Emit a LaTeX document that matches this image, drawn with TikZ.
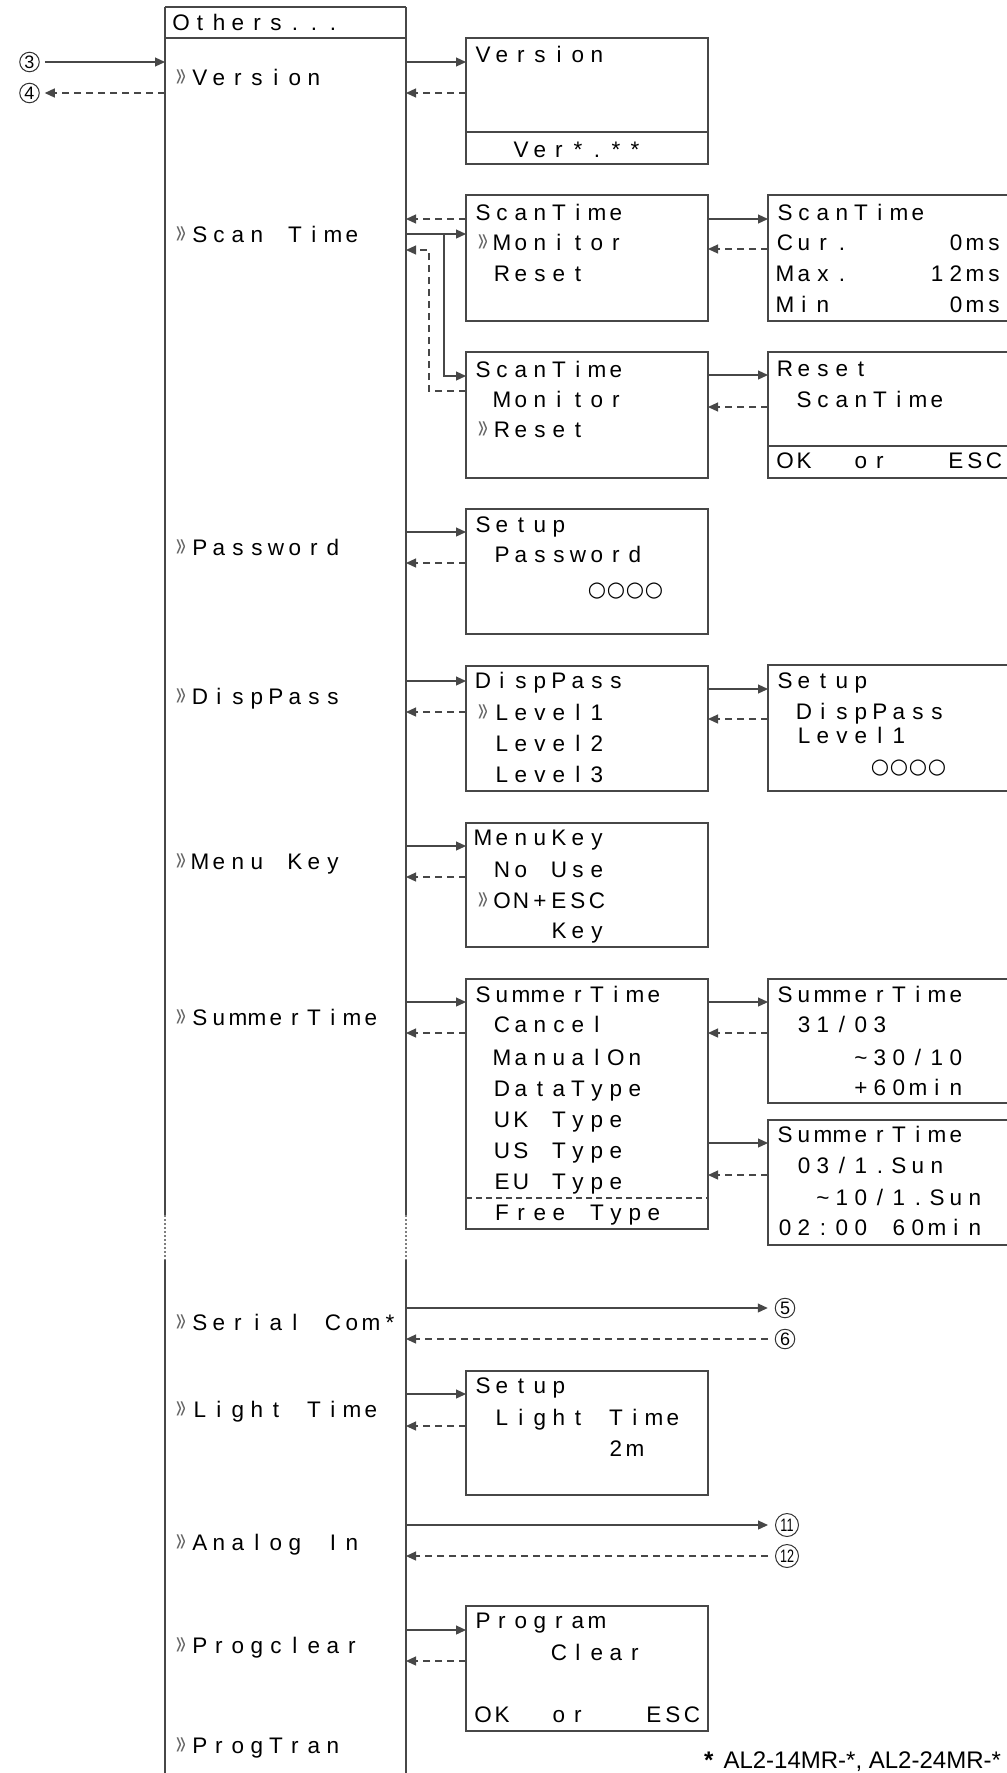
\documentclass[tikz,border=0pt]{standalone}
\usepackage{fontspec}
\usetikzlibrary{arrows.meta}
\newfontfamily\lcdfont{Liberation Sans}
\newfontfamily\symfont{DejaVu Sans}
\colorlet{lc}{black!72}
\newcommand\lcdcur{\raisebox{-1.5pt}{\textcolor{black!60}{\scalebox{1.25}[2.6]{\fontsize{14}{14}\selectfont »}}}}
\newcommand\lcdcirc{{\symfont\fontsize{21}{21}\selectfont ○}}
\ExplSyntaxOn
\NewDocumentCommand\lcd{m}{
  \str_map_inline:nn {#1} {
    \str_case:nnF {##1} {
      {_}{\makebox[19pt]{}}
      {>}{\makebox[19pt]{\lcdcur}}
      {○}{\makebox[19pt]{\lcdcirc}}
    }{\makebox[19pt]{##1}}
  }
}
\ExplSyntaxOff
\tikzset{
  txt/.style={anchor=base west, inner sep=0pt, outer sep=0pt, font=\lcdfont\fontsize{22.5}{22.5}\selectfont},
  box/.style={draw=lc, line width=1.3pt, inner sep=0pt, outer sep=0pt, anchor=north west},
  edge/.style={draw=lc, line width=1.3pt},
  dotline/.style={draw=lc!70, line width=1.3pt, dash pattern=on 2pt off 2pt},
  divdash/.style={draw=lc, line width=1.1pt, dash pattern=on 6pt off 4pt},
  arr/.style={draw=lc, line width=1.2pt, -{Triangle[length=10pt,width=9pt]}},
  darr/.style={arr, dash pattern=on 7pt off 5pt},
  cn/.style={circle, draw=black!80, line width=1pt, minimum size=19.5pt, inner sep=0pt, font=\lcdfont\fontsize{18}{18}\selectfont},
  cnn/.style={cn, minimum size=23pt}
}
\newcommand\tx[4]{\node[txt] (#1) at (#2,#3) {\lcd{#4}};}
\begin{document}
\begin{tikzpicture}[x=1pt,y=-1pt]
\useasboundingbox (0,0) rectangle (1007,1773);
% main column
\node[anchor=north west, minimum width=241pt, minimum height=1800pt, inner sep=0pt, outer sep=0pt] (main) at (165,7) {};
\draw[edge] (main.north west) -- (main.north east);
\draw[edge] (main.west |- 0,38) -- (main.east |- 0,38);
\draw[edge] (main.north west) -- (main.west |- 0,1215);
\draw[dotline] (main.west |- 0,1215) -- (main.west |- 0,1260);
\draw[edge] (main.west |- 0,1260) -- (main.south west);
\draw[edge] (main.north east) -- (main.east |- 0,1215);
\draw[dotline] (main.east |- 0,1215) -- (main.east |- 0,1260);
\draw[edge] (main.east |- 0,1260) -- (main.south east);
\tx{mt}{171.5}{30}{Others...}
\tx{m1}{171.5}{85}{>Version}
\tx{m2}{171.5}{242}{>Scan Time}
\tx{m3}{171.5}{555}{>Password}
\tx{m4}{171.5}{704}{>DispPass}
\tx{m5}{171.5}{869}{>Menu Key}
\tx{m6}{171.5}{1025}{>SummerTime}
\tx{m7}{171.5}{1330}{>Serial Com*}
\tx{m8}{171.5}{1417}{>Light Time}
\tx{m9}{171.5}{1550}{>Analog In}
\tx{m10}{171.5}{1653}{>Progclear}
\tx{m11}{171.5}{1753}{>ProgTran}
% boxes
\node[box, minimum width=242pt, minimum height=126pt] (ver) at (466,38) {};
\draw[edge] (ver.west |- 0,132) -- (ver.east |- 0,132);
\node[box, minimum width=242pt, minimum height=126pt] (st1) at (466,195) {};
\node[box, minimum width=242pt, minimum height=126pt] (st2) at (466,352) {};
\node[box, minimum width=260pt, minimum height=126pt] (stm) at (768,195) {};
\node[box, minimum width=260pt, minimum height=126pt] (str) at (768,352) {};
\draw[edge] (str.west |- 0,446) -- (str.east |- 0,446);
\node[box, minimum width=242pt, minimum height=125pt] (pw) at (466,509) {};
\node[box, minimum width=242pt, minimum height=125pt] (dp) at (466,666) {};
\node[box, minimum width=260pt, minimum height=126pt] (dps) at (768,665) {};
\node[box, minimum width=242pt, minimum height=124pt] (mk) at (466,823) {};
\node[box, minimum width=242pt, minimum height=250pt] (sm) at (466,979) {};
\draw[divdash] (sm.west |- 0,1198) -- (sm.east |- 0,1198);
\node[box, minimum width=260pt, minimum height=124pt] (sm1) at (768,979) {};
\node[box, minimum width=260pt, minimum height=125pt] (sm2) at (768,1120) {};
\node[box, minimum width=242pt, minimum height=124pt] (lt) at (466,1371) {};
\node[box, minimum width=242pt, minimum height=125pt] (pg) at (466,1606) {};
% box texts
\tx{v1}{473.5}{62}{Version}
\tx{v2}{473.5}{157}{__Ver*.**}
\tx{a1}{473.5}{220}{ScanTime}
\tx{a2}{473.5}{250}{>Monitor}
\tx{a3}{473.5}{281}{_Reset}
\tx{b1}{473.5}{377}{ScanTime}
\tx{b2}{473.5}{407}{_Monitor}
\tx{b3}{473.5}{437}{>Reset}
\tx{c1}{775.5}{220}{ScanTime}
\tx{c2}{775.5}{250}{Cur._____0ms}
\tx{c3}{775.5}{281}{Max.____12ms}
\tx{c4}{775.5}{312}{Min______0ms}
\tx{d1}{775.5}{376}{Reset}
\tx{d2}{775.5}{407}{_ScanTime}
\tx{d3}{775.5}{468}{OK__or___ESC}
\tx{e1}{473.5}{532}{Setup}
\tx{e2}{473.5}{562}{_Password}
\tx{e3}{473.5}{596}{______○○○○}
\tx{f1}{473.5}{688}{DispPass}
\tx{f2}{473.5}{720}{>Level1}
\tx{f3}{473.5}{751}{_Level2}
\tx{f4}{473.5}{782}{_Level3}
\tx{g1}{775.5}{688}{Setup}
\tx{g2}{775.5}{719}{_DispPass}
\tx{g3}{775.5}{743}{_Level1}
\tx{g4}{775.5}{773}{_____○○○○}
\tx{h1}{473.5}{845}{MenuKey}
\tx{h2}{473.5}{877}{_No Use}
\tx{h3}{473.5}{908}{>ON+ESC}
\tx{h4}{473.5}{938}{____Key}
\tx{i1}{473.5}{1002}{SummerTime}
\tx{i2}{473.5}{1032}{_Cancel}
\tx{i3}{473.5}{1065}{_ManualOn}
\tx{i4}{473.5}{1096}{_DataType}
\tx{i5}{473.5}{1127}{_UK Type}
\tx{i6}{473.5}{1158}{_US Type}
\tx{i7}{473.5}{1189}{_EU Type}
\tx{i8}{473.5}{1220}{_Free Type}
\tx{j1}{775.5}{1002}{SummerTime}
\tx{j2}{775.5}{1032}{_31/03}
\tx{j3}{775.5}{1065}{____~30/10}
\tx{j4}{775.5}{1095}{____+60min}
\tx{k1}{775.5}{1142}{SummerTime}
\tx{k2}{775.5}{1173}{_03/1.Sun}
\tx{k3}{775.5}{1205}{__~10/1.Sun}
\tx{k4}{775.5}{1235}{02:00 60min}
\tx{l1}{473.5}{1393}{Setup}
\tx{l2}{473.5}{1425}{_Light Time}
\tx{l3}{473.5}{1456}{_______2m}
\tx{p1}{473.5}{1628}{Program}
\tx{p2}{473.5}{1660}{____Clear}
\tx{p3}{473.5}{1722}{OK__or___ESC}
% circled numbers
\node[cn] (n3) at (29.5,62) {3};
\node[cn] (n4) at (29.5,93) {4};
\node[cn] (n5) at (785,1308) {5};
\node[cn] (n6) at (785,1339) {6};
\node[cnn] (n11) at (787,1525) {\scalebox{0.7}[1]{11}};
\node[cnn] (n12) at (787,1556) {\scalebox{0.7}[1]{12}};
% connectors
\draw[arr, shorten <=5pt] (n3) -- (main.west |- n3);
\draw[darr, shorten >=5pt] (main.west |- n4) -- (n4);
\draw[arr] (main.east |- 0,62) -- (ver.west |- 0,62);
\draw[darr] (ver.west |- 0,93) -- (main.east |- 0,93);
\draw[darr] (st1.west |- 0,219) -- (main.east |- 0,219);
\draw[arr] (main.east |- 0,234) -- (st1.west |- 0,234);
\coordinate (brk) at (444,234);
\draw[arr] (brk) |- (st2.west |- 0,376);
\coordinate (ret) at (429,250);
\draw[darr] (st2.west |- 0,391) -| (ret) -- (main.east |- ret);
\draw[arr] (st1.east |- 0,219) -- (stm.west |- 0,219);
\draw[darr] (stm.west |- 0,249) -- (st1.east |- 0,249);
\draw[arr] (st2.east |- 0,375) -- (str.west |- 0,375);
\draw[darr] (str.west |- 0,407) -- (st2.east |- 0,407);
\draw[arr] (main.east |- 0,532) -- (pw.west |- 0,532);
\draw[darr] (pw.west |- 0,563) -- (main.east |- 0,563);
\draw[arr] (main.east |- 0,681) -- (dp.west |- 0,681);
\draw[darr] (dp.west |- 0,712) -- (main.east |- 0,712);
\draw[arr] (dp.east |- 0,689) -- (dps.west |- 0,689);
\draw[darr] (dps.west |- 0,719) -- (dp.east |- 0,719);
\draw[arr] (main.east |- 0,846) -- (mk.west |- 0,846);
\draw[darr] (mk.west |- 0,877) -- (main.east |- 0,877);
\draw[arr] (main.east |- 0,1002) -- (sm.west |- 0,1002);
\draw[darr] (sm.west |- 0,1033) -- (main.east |- 0,1033);
\draw[arr] (sm.east |- 0,1002) -- (sm1.west |- 0,1002);
\draw[darr] (sm1.west |- 0,1033) -- (sm.east |- 0,1033);
\draw[arr] (sm.east |- 0,1143) -- (sm2.west |- 0,1143);
\draw[darr] (sm2.west |- 0,1175) -- (sm.east |- 0,1175);
\draw[arr, shorten >=7pt] (main.east |- n5) -- (n5);
\draw[darr, shorten <=7pt] (n6) -- (main.east |- n6);
\draw[arr] (main.east |- 0,1394) -- (lt.west |- 0,1394);
\draw[darr] (lt.west |- 0,1426) -- (main.east |- 0,1426);
\draw[arr, shorten >=7pt] (main.east |- n11) -- (n11);
\draw[darr, shorten <=7pt] (n12) -- (main.east |- n12);
\draw[arr] (main.east |- 0,1630) -- (pg.west |- 0,1630);
\draw[darr] (pg.west |- 0,1661) -- (main.east |- 0,1661);
% footnote
\node[anchor=base west, inner sep=0pt, font=\lcdfont\fontsize{24}{24}\selectfont] (fn) at (704,1768) {{\bfseries *}\hspace{10pt}AL2-14MR-*, AL2-24MR-*};
\end{tikzpicture}
\end{document}
